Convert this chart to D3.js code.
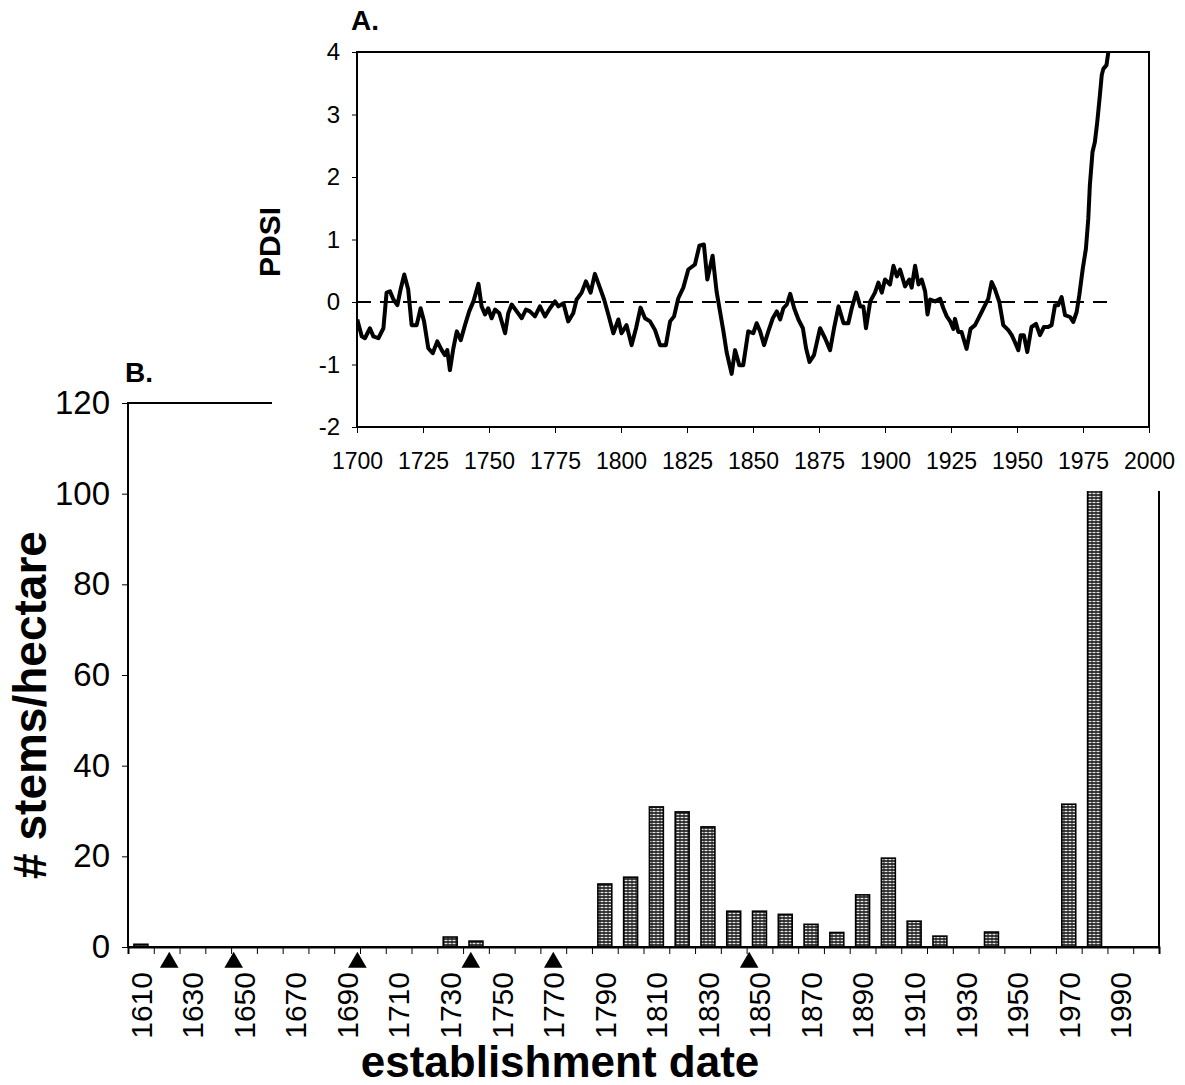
<!DOCTYPE html>
<html>
<head>
<meta charset="utf-8">
<script src="https://cdn.jsdelivr.net/npm/d3@7/dist/d3.min.js"></script>
<style>
body { margin: 0; background: #fff; }
text { font-family: "Liberation Sans", Arial, sans-serif; fill: #000; }
</style>
</head>
<body>
<div id="chart"></div>
<script>
// panel B: stems per hectare by decade of establishment
var decades = [1610, 1620, 1630, 1640, 1650, 1660, 1670, 1680, 1690, 1700,
               1710, 1720, 1730, 1740, 1750, 1760, 1770, 1780, 1790, 1800,
               1810, 1820, 1830, 1840, 1850, 1860, 1870, 1880, 1890, 1900,
               1910, 1920, 1930, 1940, 1950, 1960, 1970, 1980, 1990, 2000];
var stems = [0.6, 0, 0, 0, 0, 0, 0, 0, 0, 0,
             0, 0, 2.2, 1.3, 0, 0, 0, 0, 13.9, 15.4,
             30.9, 29.8, 26.5, 7.9, 7.9, 7.2, 5.0, 3.2, 11.5, 19.6,
             5.7, 2.4, 0, 3.3, 0, 0, 31.5, 110, 0, 0];
var decadeLabels = [1610, 1630, 1650, 1670, 1690, 1710, 1730, 1750, 1770, 1790,
                    1810, 1830, 1850, 1870, 1890, 1910, 1930, 1950, 1970, 1990];
var stemTicks = [0, 20, 40, 60, 80, 100, 120];
// triangles under the axis
var eventYears = [1621, 1646, 1694, 1738, 1770, 1846];

// panel A: PDSI reconstruction
var pdsiYears = [1700.1, 1701.8, 1703.0, 1704.9, 1706.2, 1708.1, 1710.0, 1711.2, 1712.5, 1713.8,
  1715.3, 1716.5, 1717.9, 1719.4, 1720.7, 1722.6, 1724.1, 1725.4, 1727.0, 1728.7,
  1730.4, 1732.1, 1733.3, 1734.2, 1735.2, 1736.5, 1737.8, 1739.3, 1740.9, 1742.5,
  1744.1, 1746.0, 1747.2, 1748.5, 1749.7, 1751.0, 1752.3, 1753.9, 1756.1, 1757.3,
  1758.6, 1760.5, 1762.4, 1764.0, 1765.5, 1767.4, 1769.3, 1771.2, 1773.1, 1775.0,
  1776.3, 1778.2, 1780.0, 1781.9, 1783.2, 1785.1, 1786.7, 1788.5, 1790.1, 1792.0,
  1793.6, 1795.2, 1797.1, 1799.0, 1800.2, 1802.1, 1804.0, 1805.7, 1807.4, 1809.1,
  1811.0, 1812.9, 1814.8, 1817.0, 1818.6, 1820.1, 1821.7, 1823.6, 1825.5, 1828.0,
  1829.7, 1831.4, 1832.7, 1834.7, 1836.2, 1837.5, 1838.8, 1840.0, 1841.9, 1843.2,
  1844.8, 1846.3, 1848.2, 1850.1, 1851.4, 1852.7, 1854.2, 1855.8, 1857.5, 1859.0,
  1860.3, 1861.5, 1862.8, 1864.1, 1865.6, 1867.2, 1868.9, 1870.1, 1871.4, 1873.1,
  1875.4, 1877.3, 1879.2, 1880.7, 1882.4, 1884.3, 1886.1, 1887.4, 1889.1, 1890.6,
  1891.8, 1892.8, 1894.4, 1896.2, 1897.5, 1898.8, 1900.0, 1901.9, 1903.2, 1904.5,
  1905.7, 1907.6, 1909.2, 1910.1, 1911.4, 1912.7, 1913.9, 1915.2, 1916.1, 1917.1,
  1919.0, 1920.9, 1922.1, 1923.4, 1924.7, 1925.9, 1926.5, 1927.8, 1929.0, 1930.9,
  1932.4, 1934.1, 1935.3, 1936.6, 1937.9, 1939.1, 1940.4, 1941.6, 1943.3, 1944.8,
  1946.7, 1948.0, 1949.2, 1950.5, 1951.4, 1952.6, 1953.9, 1955.5, 1957.2, 1958.7,
  1960.2, 1961.8, 1963.1, 1964.4, 1965.6, 1966.9, 1968.2, 1970.1, 1971.3, 1972.6,
  1973.6, 1974.9, 1976.1, 1977.0, 1977.6, 1978.6, 1979.5, 1980.4, 1981.4, 1982.1,
  1982.7, 1983.9, 1984.6];
var pdsiValues = [-0.28, -0.55, -0.58, -0.42, -0.55, -0.58, -0.42, 0.15, 0.17, 0.04,
  -0.05, 0.2, 0.44, 0.2, -0.37, -0.37, -0.1, -0.31, -0.74, -0.82,
  -0.63, -0.77, -0.85, -0.77, -1.09, -0.74, -0.47, -0.61, -0.37, -0.15,
  0.01, 0.29, -0.07, -0.2, -0.1, -0.26, -0.12, -0.18, -0.5, -0.18,
  -0.04, -0.15, -0.26, -0.12, -0.15, -0.23, -0.07, -0.23, -0.1, 0.01,
  -0.07, -0.02, -0.31, -0.18, 0.04, 0.15, 0.33, 0.15, 0.45, 0.23,
  0.04, -0.2, -0.5, -0.28, -0.5, -0.37, -0.69, -0.42, -0.09, -0.26,
  -0.31, -0.45, -0.69, -0.69, -0.31, -0.23, 0.06, 0.23, 0.52, 0.6,
  0.9, 0.92, 0.36, 0.74, 0.17, -0.15, -0.47, -0.8, -1.15, -0.77,
  -1.01, -1.01, -0.47, -0.5, -0.34, -0.47, -0.69, -0.47, -0.26, -0.15,
  -0.28, -0.1, -0.04, 0.13, -0.1, -0.28, -0.42, -0.74, -0.96, -0.85,
  -0.42, -0.58, -0.77, -0.42, -0.07, -0.34, -0.34, -0.1, 0.15, -0.07,
  -0.07, -0.42, 0.01, 0.15, 0.31, 0.15, 0.36, 0.28, 0.58, 0.41,
  0.52, 0.25, 0.36, 0.23, 0.58, 0.28, 0.36, 0.17, -0.2, 0.04,
  0.01, 0.05, -0.1, -0.23, -0.31, -0.43, -0.27, -0.48, -0.48, -0.75,
  -0.43, -0.37, -0.27, -0.16, -0.05, 0.05, 0.32, 0.21, 0.0, -0.37,
  -0.45, -0.53, -0.64, -0.77, -0.53, -0.53, -0.8, -0.4, -0.35, -0.53,
  -0.4, -0.4, -0.37, -0.05, -0.05, 0.08, -0.21, -0.24, -0.32, -0.16,
  0.11, 0.53, 0.85, 1.33, 1.87, 2.4, 2.56, 2.88, 3.31, 3.63,
  3.73, 3.79, 4.0];
var pdsiYearTicks = [1700, 1725, 1750, 1775, 1800, 1825, 1850, 1875, 1900, 1925, 1950, 1975, 2000];
var pdsiTicks = [-2, -1, 0, 1, 2, 3, 4];

var W = 1185, H = 1085;
var svg = d3.select("#chart").append("svg")
    .attr("width", W).attr("height", H)
    .style("display", "block");

svg.append("rect").attr("width", W).attr("height", H).attr("fill", "#fff");

// bar fill: dark with little light dashes, reads as grey
var pat = svg.append("defs").append("pattern")
    .attr("id", "dash")
    .attr("patternUnits", "userSpaceOnUse")
    .attr("width", 4).attr("height", 3);
pat.append("rect").attr("width", 4).attr("height", 3).attr("fill", "#1a1a1a");
pat.append("rect").attr("x", 0.5).attr("y", 0.8).attr("width", 3).attr("height", 1.4).attr("fill", "#e8e8e8");

// plain hyphen for negatives, like the original
var plain = function(d) { return String(d); };

// ---------- panel B ----------
var bLeft = 128, bRight = 1159, bTop = 403, bBottom = 947;

var x = d3.scaleBand()
    .domain(decades)
    .range([bLeft, bRight])
    .paddingInner(0.46)
    .paddingOuter(0.23);

var y = d3.scaleLinear()
    .domain([0, 120])
    .range([bBottom, bTop]);

// tick marks sit between the categories
var edges = d3.scaleLinear().domain([0, decades.length]).range([bLeft, bRight]);
// year -> position, for the triangles
var yearX = d3.scaleLinear()
    .domain([decades[0], decades[decades.length - 1]])
    .range([x(decades[0]) + x.bandwidth() / 2, x(decades[decades.length - 1]) + x.bandwidth() / 2]);

var gB = svg.append("g");

gB.selectAll(".bar")
  .data(decades.map(function(d, i) { return {decade: d, value: stems[i]}; })
    .filter(function(d) { return d.value > 0; }))
  .enter().append("rect")
    .attr("class", "bar")
    .attr("x", function(d) { return x(d.decade); })
    .attr("width", x.bandwidth())
    .attr("y", function(d) { return y(d.value); })
    .attr("height", function(d) { return y(0) - y(d.value); })
    .attr("fill", "url(#dash)")
    .attr("stroke", "#000")
    .attr("stroke-width", 1.6);

// frame
gB.append("rect")
    .attr("x", bLeft).attr("y", bTop)
    .attr("width", bRight - bLeft).attr("height", bBottom - bTop)
    .attr("fill", "none").attr("stroke", "#000").attr("stroke-width", 2);

var yAxisB = gB.append("g")
    .attr("transform", "translate(" + bLeft + ",0)")
    .call(d3.axisLeft(y).tickValues(stemTicks).tickSize(6).tickPadding(12));
yAxisB.select(".domain").remove();
yAxisB.selectAll("text").style("font-size", "33px");

var xTicksB = gB.append("g")
    .attr("transform", "translate(0," + bBottom + ")")
    .call(d3.axisBottom(edges).tickValues(d3.range(0, decades.length + 1)).tickSize(7).tickFormat(""));
xTicksB.select(".domain").attr("stroke-width", 2);

var xLabB = gB.append("g")
    .attr("transform", "translate(0," + bBottom + ")")
    .call(d3.axisBottom(x).tickValues(decadeLabels).tickSize(0).tickPadding(0));
xLabB.select(".domain").remove();
xLabB.selectAll("text")
    .style("font-size", "30px")
    .attr("text-anchor", "end")
    .attr("transform", "rotate(-90)")
    .attr("x", -25)
    .attr("y", 0)
    .attr("dy", "0.36em");

gB.selectAll(".event")
  .data(eventYears)
  .enter().append("path")
    .attr("class", "event")
    .attr("d", d3.symbol(d3.symbolTriangle).size(150))
    .attr("transform", function(d) { return "translate(" + yearX(d) + "," + (bBottom + 15.5) + ")"; })
    .attr("fill", "#000");

svg.append("text")
    .attr("x", 560).attr("y", 1077)
    .attr("text-anchor", "middle")
    .style("font-size", "44px").style("font-weight", "bold")
    .text("establishment date");

svg.append("text")
    .attr("transform", "translate(46,705) rotate(-90)")
    .attr("text-anchor", "middle")
    .style("font-size", "46px").style("font-weight", "bold")
    .text("# stems/hectare");

svg.append("text")
    .attr("x", 125).attr("y", 382)
    .style("font-size", "28px").style("font-weight", "bold")
    .text("B.");

// ---------- panel A (drawn over the top of B) ----------
var aLeft = 357, aRight = 1149, aTop = 52, aBottom = 427;

svg.append("rect")
    .attr("x", 272).attr("y", 0)
    .attr("width", W - 272).attr("height", 491)
    .attr("fill", "#fff");

var xa = d3.scaleLinear().domain([1700, 2000]).range([aLeft, aRight]);
var ya = d3.scaleLinear().domain([-2, 4]).range([aBottom, aTop]);

var gA = svg.append("g");

gA.append("clipPath").attr("id", "clipA")
  .append("rect")
    .attr("x", aLeft).attr("y", aTop)
    .attr("width", aRight - aLeft).attr("height", aBottom - aTop);

gA.append("line")
    .attr("x1", xa(1700)).attr("x2", xa(1986))
    .attr("y1", ya(0)).attr("y2", ya(0))
    .attr("stroke", "#000")
    .attr("stroke-width", 2)
    .attr("stroke-dasharray", "14,9");

gA.append("path")
    .datum(pdsiYears.map(function(d, i) { return [d, pdsiValues[i]]; }))
    .attr("clip-path", "url(#clipA)")
    .attr("fill", "none")
    .attr("stroke", "#000")
    .attr("stroke-width", 4)
    .attr("stroke-linejoin", "round")
    .attr("d", d3.line()
      .x(function(d) { return xa(d[0]); })
      .y(function(d) { return ya(d[1]); }));

gA.append("rect")
    .attr("x", aLeft).attr("y", aTop)
    .attr("width", aRight - aLeft).attr("height", aBottom - aTop)
    .attr("fill", "none").attr("stroke", "#000").attr("stroke-width", 2);

var yAxisA = gA.append("g")
    .attr("transform", "translate(" + aLeft + ",0)")
    .call(d3.axisLeft(ya).tickValues(pdsiTicks).tickSize(5).tickPadding(12).tickFormat(plain));
yAxisA.select(".domain").remove();
yAxisA.selectAll("text").style("font-size", "24px");

var xAxisA = gA.append("g")
    .attr("transform", "translate(0," + aBottom + ")")
    .call(d3.axisBottom(xa).tickValues(pdsiYearTicks).tickSize(6).tickPadding(20).tickFormat(plain));
xAxisA.select(".domain").remove();
xAxisA.selectAll("text").style("font-size", "23px");

svg.append("text")
    .attr("transform", "translate(280,242) rotate(-90)")
    .attr("text-anchor", "middle")
    .style("font-size", "30px").style("font-weight", "bold")
    .text("PDSI");

svg.append("text")
    .attr("x", 351).attr("y", 30)
    .style("font-size", "28px").style("font-weight", "bold")
    .text("A.");
</script>
</body>
</html>
